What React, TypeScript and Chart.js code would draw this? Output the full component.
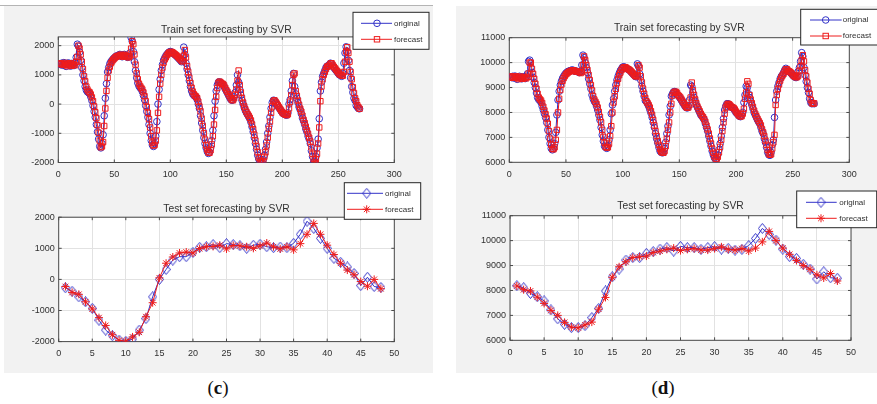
import React, { useEffect, useRef } from "react";
import { Chart, registerables } from "chart.js";

Chart.register(...registerables);

// ---------------- data ----------------
const trainXTicks = [0, 50, 100, 150, 200, 250, 300];
const testXTicks = [0, 5, 10, 15, 20, 25, 30, 35, 40, 45, 50];
const cYTicks = [-2000, -1000, 0, 1000, 2000];
const dYTicks = [6000, 7000, 8000, 9000, 10000, 11000];
const trainTitle = "Train set forecasting by SVR";
const testTitle = "Test set forecasting by SVR";
const seriesLabels = ["original", "forecast"];
const panelLabels = ["c", "d"];

const cTrainOriginal = [
  1380, 1350, 1400, 1330, 1420, 1360, 1290, 1380, 1410, 1340, 1300, 1390, 1360, 1320, 1420,
  1600, 2050, 1980, 1780, 1500,
  1250, 1000, 800, 600, 480, 420, 390, 360, 250, 120,
  -50, -250, -450, -700, -950, -1200, -1450, -1500, -1350, -1050,
  -400, 200, 700, 1100, 1250, 1380, 1450, 1500, 1550, 1580,
  1620, 1650, 1640, 1680, 1700, 1660, 1620, 1680, 1700, 1650,
  1620, 1600, 1640, 1750, 2280, 2150, 1800, 1450, 1150, 900,
  720, 620, 560, 520, 430, 300, 150, -50, -250, -450,
  -700, -1000, -1250, -1400, -1450, -1350, -1100, -600, 0, 500,
  850, 1150, 1350, 1500, 1580, 1650, 1700, 1750, 1780, 1800,
  1780, 1760, 1720, 1700, 1660, 1620, 1580, 1540, 1500, 1450,
  1500, 1950, 1700, 1400, 1200, 1000, 800, 600, 450, 350,
  300, 270, 240, 150, 0, -150, -400, -650, -900, -1150,
  -1350, -1500, -1620, -1690, -1650, -1500, -1250, -900, -400, 100,
  450, 650, 750, 760, 720, 700, 680, 600, 520, 450,
  380, 300, 230, 160, 130, 150, 250, 400, 650, 1000,
  750, 500, 300, 130, 0, -120, -220, -300, -360, -430,
  -500, -620, -780, -950, -1150, -1350, -1550, -1750, -1880, -1980,
  -2030, -2020, -1900, -1750, -1550, -1300, -1000, -750, -450, -150,
  50, 130, 120, 60, 0, -60, -120, -180, -240, -300,
  -330, -350, -370, -380, -300, 0, 150, 450, 800, 1050,
  600, 350, 200, 50, -100, -200, -330, -480, -580, -700,
  -850, -950, -1100, -1200, -1350, -1600, -1800, -1980, -1950, -1800,
  -1500, -1200, -500, 450, 750, 950, 1050, 1150, 1250, 1300,
  1300, 1350, 1400, 1380, 1300, 1250, 1200, 1150, 1100, 1050,
  1000, 1000, 950, 1050, 1400, 1750, 1960, 1800, 1500, 1150,
  900, 600, 400, 200, 120, -50, -100, -150, -160,
];

const cTrainForecast = [
  1400, 1370, 1360, 1390, 1340, 1410, 1350, 1300, 1370, 1400, 1330, 1310, 1380, 1350, 1330,
  1450, 1620, 2000, 1900, 1700,
  1450, 1200, 950, 780, 600, 500, 430, 400, 330, 230,
  100, -80, -280, -480, -720, -980, -1250, -1480, -1450, -1300,
  -750, -150, 450, 900, 1150, 1280, 1400, 1460, 1520, 1560,
  1600, 1630, 1650, 1640, 1680, 1690, 1650, 1620, 1670, 1690,
  1640, 1610, 1600, 1650, 1900, 2150, 2050, 1700, 1350, 1050,
  850, 700, 620, 560, 500, 400, 270, 100, -100, -300,
  -520, -800, -1100, -1320, -1420, -1400, -1250, -900, -300, 250,
  700, 1000, 1250, 1420, 1530, 1600, 1670, 1720, 1760, 1780,
  1790, 1770, 1740, 1710, 1680, 1650, 1610, 1570, 1530, 1490,
  1460, 1650, 1850, 1600, 1300, 1100, 900, 720, 560, 430,
  340, 290, 260, 200, 80, -80, -250, -500, -750, -1000,
  -1220, -1420, -1560, -1650, -1670, -1580, -1380, -1100, -700, -200,
  250, 550, 720, 770, 740, 700, 690, 640, 560, 480,
  420, 340, 270, 200, 140, 130, 200, 320, 500, 800,
  1150, 650, 400, 200, 50, -80, -180, -270, -340, -400,
  -470, -560, -700, -860, -1050, -1250, -1450, -1650, -1830, -1930,
  -1990, -2000, -1950, -1800, -1650, -1420, -1150, -850, -600, -300,
  -80, 90, 130, 80, 20, -40, -100, -160, -220, -280,
  -320, -340, -360, -380, -350, -150, 80, 300, 650, 1000,
  1050, 450, 280, 120, -30, -160, -260, -400, -540, -650,
  -780, -900, -1020, -1150, -1280, -1480, -1700, -1880, -2000, -1900,
  -1700, -1350, -800, 100, 600, 850, 1000, 1100, 1200, 1280,
  1300, 1320, 1380, 1400, 1340, 1280, 1230, 1180, 1130, 1080,
  1030, 1000, 980, 970, 1100, 1450, 1800, 1950, 1750, 1450,
  1100, 850, 580, 380, 200, 100, -40, -110, -160,
];

const dTrainOriginal = [
  9420, 9400, 9450, 9380, 9460, 9400, 9330, 9420, 9450, 9380, 9350, 9430, 9400, 9360, 9450,
  9550, 10050, 10100, 9800, 9600,
  9400, 9200, 9000, 8780, 8600, 8520, 8480, 8400, 8250, 8100,
  7950, 7800, 7600, 7300, 7000, 6750, 6560, 6500, 6550, 6750,
  7200, 7900, 8500, 8850, 9100, 9250, 9370, 9450, 9520, 9580,
  9620, 9650, 9660, 9680, 9700, 9700, 9680, 9650, 9660, 9640,
  9620, 9600, 9650, 9900, 10300, 10200, 10000, 9800, 9600, 9350,
  9150, 8950, 8700, 8550, 8450, 8380, 8250, 8100, 7900, 7700,
  7400, 7100, 6850, 6650, 6600, 6560, 6650, 6900, 7300, 7950,
  8300, 8550, 8850, 9100, 9300, 9450, 9570, 9680, 9750, 9820,
  9830, 9810, 9780, 9750, 9730, 9700, 9650, 9600, 9550, 9500,
  9450, 9430, 9950, 9850, 9550, 9300, 9050, 8850, 8650, 8480,
  8430, 8350, 8250, 8120, 7980, 7800, 7600, 7400, 7150, 6950,
  6780, 6600, 6450, 6400, 6380, 6400, 6550, 6800, 7150, 7450,
  7900, 8250, 8650, 8750, 8830, 8840, 8800, 8720, 8680, 8620,
  8550, 8480, 8400, 8330, 8250, 8200, 8180, 8250, 8500, 9100,
  9050, 8800, 8600, 8450, 8300, 8200, 8100, 8000, 7900, 7850,
  7780, 7700, 7550, 7400, 7250, 7050, 6850, 6650, 6450, 6300,
  6180, 6120, 6150, 6300, 6500, 6750, 7050, 7400, 7750, 8100,
  8250, 8350, 8350, 8300, 8250, 8200, 8200, 8150, 8080, 8000,
  7950, 7900, 7850, 7830, 7900, 8000, 8400, 8700, 9050, 9000,
  8750, 8600, 8450, 8300, 8150, 8000, 7900, 7800, 7700, 7620,
  7550, 7400, 7250, 7150, 6950, 6800, 6600, 6400, 6300, 6280,
  6400, 6700, 6900, 7800, 8500, 8850, 9050, 9200, 9350, 9450,
  9500, 9600, 9700, 9770, 9700, 9650, 9640, 9600, 9550, 9500,
  9450, 9420, 9400, 9450, 9650, 9800, 10050, 10400, 10250, 9800,
  9500, 9250, 9000, 8800, 8550, 8400, 8350, 8370, 8350,
];

const dTrainForecast = [
  9450, 9410, 9390, 9440, 9390, 9450, 9400, 9340, 9410, 9440, 9370, 9350, 9420, 9390, 9370,
  9430, 9560, 10000, 10000, 9750,
  9550, 9350, 9150, 8950, 8750, 8600, 8530, 8480, 8380, 8230,
  8080, 7930, 7760, 7550, 7250, 6950, 6700, 6540, 6520, 6600,
  6900, 7300, 8000, 8550, 8900, 9120, 9270, 9380, 9460, 9530,
  9570, 9610, 9640, 9660, 9680, 9690, 9690, 9660, 9640, 9650,
  9640, 9610, 9580, 9620, 9900, 10250, 10100, 9900, 9700, 9500,
  9300, 9100, 8880, 8650, 8520, 8430, 8340, 8200, 8020, 7820,
  7600, 7300, 7020, 6780, 6620, 6590, 6600, 6750, 7050, 7450,
  8000, 8400, 8650, 8950, 9180, 9350, 9500, 9600, 9700, 9770,
  9810, 9820, 9800, 9760, 9740, 9710, 9670, 9620, 9570, 9520,
  9470, 9440, 9500, 9900, 9800, 9450, 9200, 8950, 8750, 8580,
  8450, 8380, 8300, 8200, 8050, 7900, 7700, 7480, 7250, 7050,
  6850, 6700, 6530, 6430, 6400, 6380, 6450, 6650, 6950, 7300,
  7600, 8000, 8350, 8680, 8790, 8830, 8830, 8780, 8700, 8650,
  8600, 8520, 8440, 8370, 8290, 8220, 8190, 8200, 8300, 8600,
  9200, 8900, 8700, 8520, 8370, 8240, 8140, 8050, 7950, 7870,
  7810, 7730, 7620, 7470, 7320, 7150, 6950, 6750, 6550, 6380,
  6240, 6150, 6130, 6220, 6400, 6620, 6900, 7250, 7600, 7950,
  8200, 8300, 8350, 8330, 8280, 8230, 8200, 8180, 8120, 8040,
  7980, 7920, 7870, 7840, 7850, 7950, 8150, 8550, 8800, 9250,
  9150, 8700, 8520, 8370, 8220, 8070, 7950, 7850, 7750, 7660,
  7580, 7480, 7320, 7200, 7050, 6870, 6700, 6500, 6350, 6300,
  6320, 6550, 6800, 7100, 8300, 8700, 8950, 9130, 9280, 9400,
  9480, 9550, 9650, 9730, 9740, 9680, 9650, 9620, 9580, 9520,
  9470, 9440, 9410, 9420, 9480, 9680, 9850, 10100, 10300, 10050,
  9700, 9450, 9200, 8950, 8750, 8500, 8380, 8350, 8370,
];

const cTestOriginal = [
  -270, -380, -560, -720, -930, -1310, -1630, -1810, -1950, -1990,
  -1920, -1630, -1260, -560, 0, 320, 620, 730, 730, 870,
  1030, 1050, 1120, 1020, 1150, 1120, 1080, 1000, 1100, 1130,
  1050, 1020, 1040, 1020, 1160, 1450, 1870, 1640, 1320, 1000,
  680, 550, 400, 190, -200, 70, -230, -260,
];
const cTestForecast = [
  -230, -420, -480, -720, -950, -1230, -1480, -1780, -1960, -1990,
  -1850, -1700, -1200, -750, 50, 520, 720, 850, 880, 850,
  990, 1050, 1060, 1100, 980, 1090, 1080, 1050, 1000, 1080,
  1170, 1050, 980, 1050, 950, 1150, 1450, 1800, 1450, 1100,
  800, 520, 300, 150, -70, -220, 0, -300,
];
const dTestOriginal = [
  8190, 8110, 7880, 7750, 7580, 7220, 6860, 6640, 6510, 6510,
  6590, 6910, 7280, 7980, 8550, 8860, 9220, 9320, 9320, 9490,
  9560, 9660, 9720, 9580, 9770, 9720, 9720, 9650, 9720, 9760,
  9660, 9690, 9620, 9650, 9800, 10090, 10490, 10250, 10020, 9660,
  9360, 9290, 9050, 8860, 8460, 8750, 8510, 8490,
];
const dTestForecast = [
  8180, 8030, 7980, 7730, 7480, 7200, 7000, 6720, 6530, 6500,
  6620, 6730, 7250, 7720, 8530, 8950, 9150, 9320, 9350, 9380,
  9520, 9580, 9650, 9700, 9600, 9650, 9680, 9620, 9620, 9680,
  9750, 9650, 9620, 9680, 9580, 9700, 9950, 10370, 10000, 9700,
  9450, 9200, 9000, 8850, 8630, 8500, 8680, 8380,
];

// ---------------- style ----------------
const BLUE = "rgb(50,50,200)";
const RED = "rgb(238,28,28)";
const AXIS = "#4a4a4a";
const GRID = "#e2e2e2";
const TEXT = "#303030";
const SANS = "'Liberation Sans', Arial, Helvetica, sans-serif";
const PANEL = "#f2f2f2";

type Box = { L: number; T: number; R: number; B: number };
type Legend = {
  x1: number; y1: number; x2: number; y2: number;
  lx1: number; lx2: number; mx: number; tx: number; rows: number[];
};
type Spec = {
  left: number; top: number; width: number; height: number;
  plot: Box; xMin: number; xMax: number; yMin: number; yMax: number;
  xTicks: number[]; yTicks: number[]; title: string; titleY: number;
  legend: Legend; original: number[]; forecast: number[]; kind: "train" | "test";
};

const specs: Spec[] = [
  {
    left: 0, top: 0, width: 440, height: 182,
    plot: { L: 58.3, T: 36.9, R: 394.3, B: 162.5 },
    xMin: 0, xMax: 300, yMin: -2000, yMax: 2300,
    xTicks: trainXTicks, yTicks: cYTicks, title: trainTitle, titleY: 29.7,
    legend: { x1: 353, y1: 12.3, x2: 429, y2: 49.3, lx1: 361, lx2: 392, mx: 377, tx: 394, rows: [23.3, 39.3] },
    original: cTrainOriginal, forecast: cTrainForecast, kind: "train",
  },
  {
    left: 0, top: 178, width: 440, height: 182,
    plot: { L: 58.7, T: 217.2, R: 394.3, B: 341.6 },
    xMin: 0, xMax: 50, yMin: -2000, yMax: 2000,
    xTicks: testXTicks, yTicks: cYTicks, title: testTitle, titleY: 208.7,
    legend: { x1: 344.3, y1: 182.7, x2: 420.7, y2: 219.3, lx1: 347, lx2: 383, mx: 366.7, tx: 385, rows: [193.3, 209.3] },
    original: cTestOriginal, forecast: cTestForecast, kind: "test",
  },
  {
    left: 450, top: 0, width: 427, height: 182,
    plot: { L: 509.3, T: 37.7, R: 849.3, B: 162.3 },
    xMin: 0, xMax: 300, yMin: 6000, yMax: 11000,
    xTicks: trainXTicks, yTicks: dYTicks, title: trainTitle, titleY: 28.3,
    legend: { x1: 800.7, y1: 9.3, x2: 880, y2: 45, lx1: 810, lx2: 841.7, mx: 825.7, tx: 842.7, rows: [20, 36] },
    original: dTrainOriginal, forecast: dTrainForecast, kind: "train",
  },
  {
    left: 450, top: 178, width: 427, height: 182,
    plot: { L: 510, T: 215.7, R: 851, B: 340.3 },
    xMin: 0, xMax: 50, yMin: 6000, yMax: 11000,
    xTicks: testXTicks, yTicks: dYTicks, title: testTitle, titleY: 206,
    legend: { x1: 796.7, y1: 191, x2: 876.7, y2: 227.7, lx1: 806, lx2: 836.7, mx: 821, tx: 839.3, rows: [202.3, 218.3] },
    original: dTestOriginal, forecast: dTestForecast, kind: "test",
  },
];

function makeDiamond(): HTMLCanvasElement {
  const c = document.createElement("canvas");
  c.width = 9;
  c.height = 11;
  const g = c.getContext("2d")!;
  g.strokeStyle = BLUE;
  g.lineWidth = 1;
  g.beginPath();
  g.moveTo(4.5, 0.5);
  g.lineTo(8.5, 5.5);
  g.lineTo(4.5, 10.5);
  g.lineTo(0.5, 5.5);
  g.closePath();
  g.stroke();
  return c;
}

function drawMarker(ctx: CanvasRenderingContext2D, kind: string, x: number, y: number, diamond: HTMLCanvasElement) {
  ctx.save();
  ctx.lineWidth = 1;
  if (kind === "circle") {
    ctx.strokeStyle = BLUE;
    ctx.beginPath();
    ctx.arc(x, y, 3.3, 0, Math.PI * 2);
    ctx.stroke();
  } else if (kind === "rect") {
    ctx.strokeStyle = RED;
    ctx.strokeRect(x - 2.7, y - 2.7, 5.4, 5.4);
  } else if (kind === "diamond") {
    ctx.drawImage(diamond, x - diamond.width / 2, y - diamond.height / 2);
  } else {
    ctx.strokeStyle = RED;
    const r = 4;
    ctx.beginPath();
    for (let k = 0; k < 4; k++) {
      const a = (k * Math.PI) / 4;
      ctx.moveTo(x - Math.cos(a) * r, y - Math.sin(a) * r);
      ctx.lineTo(x + Math.cos(a) * r, y + Math.sin(a) * r);
    }
    ctx.stroke();
  }
  ctx.restore();
}

function makeDeco(spec: Spec, diamond: HTMLCanvasElement) {
  const ox = spec.left;
  const oy = spec.top;
  return {
    id: "matlabDeco",
    beforeDraw(chart: any) {
      const a = chart.chartArea;
      const ctx = chart.ctx;
      ctx.save();
      ctx.fillStyle = "#ffffff";
      ctx.fillRect(a.left, a.top, a.right - a.left, a.bottom - a.top);
      ctx.restore();
    },
    beforeDatasetsDraw(chart: any) {
      const a = chart.chartArea;
      const ctx = chart.ctx;
      const xs = chart.scales.x;
      const ys = chart.scales.y;
      ctx.save();
      ctx.strokeStyle = AXIS;
      ctx.lineWidth = 1;
      ctx.strokeRect(a.left, a.top, a.right - a.left, a.bottom - a.top);
      ctx.beginPath();
      const tl = 3;
      spec.xTicks.forEach((v) => {
        const px = xs.getPixelForValue(v);
        ctx.moveTo(px, a.bottom);
        ctx.lineTo(px, a.bottom - tl);
        ctx.moveTo(px, a.top);
        ctx.lineTo(px, a.top + tl);
      });
      spec.yTicks.forEach((v) => {
        const py = ys.getPixelForValue(v);
        ctx.moveTo(a.left, py);
        ctx.lineTo(a.left + tl, py);
        ctx.moveTo(a.right, py);
        ctx.lineTo(a.right - tl, py);
      });
      ctx.stroke();
      ctx.restore();
    },
    afterDraw(chart: any) {
      const a = chart.chartArea;
      const ctx = chart.ctx;
      ctx.save();
      // title
      ctx.fillStyle = TEXT;
      ctx.font = `10.3px ${SANS}`;
      ctx.textAlign = "center";
      ctx.textBaseline = "middle";
      ctx.fillText(spec.title, (a.left + a.right) / 2, spec.titleY - oy);
      // legend
      const lg = spec.legend;
      ctx.fillStyle = "#ffffff";
      ctx.fillRect(lg.x1 - ox, lg.y1 - oy, lg.x2 - lg.x1, lg.y2 - lg.y1);
      ctx.strokeStyle = "#262626";
      ctx.lineWidth = 1;
      ctx.strokeRect(lg.x1 - ox, lg.y1 - oy, lg.x2 - lg.x1, lg.y2 - lg.y1);
      const kinds = spec.kind === "train" ? ["circle", "rect"] : ["diamond", "star"];
      const colors = [BLUE, RED];
      seriesLabels.forEach((lab, i) => {
        const y = lg.rows[i] - oy;
        ctx.strokeStyle = colors[i];
        ctx.lineWidth = 1;
        ctx.beginPath();
        ctx.moveTo(lg.lx1 - ox, y);
        ctx.lineTo(lg.lx2 - ox, y);
        ctx.stroke();
        drawMarker(ctx, kinds[i], lg.mx - ox, y, diamond);
        ctx.fillStyle = TEXT;
        ctx.font = `8px ${SANS}`;
        ctx.textAlign = "left";
        ctx.textBaseline = "middle";
        ctx.fillText(lab, lg.tx - ox, y);
      });
      ctx.restore();
    },
  };
}

function ChartPanel({ spec }: { spec: Spec }) {
  const ref = useRef<HTMLCanvasElement | null>(null);
  useEffect(() => {
    if (!ref.current) return;
    const diamond = makeDiamond();
    const p = spec.plot;
    const isTrain = spec.kind === "train";
    const chart = new Chart(ref.current, {
      type: "line",
      data: {
        datasets: [
          {
            label: seriesLabels[0],
            data: spec.original.map((v, i) => ({ x: i + 1, y: v })),
            borderColor: BLUE,
            borderWidth: 1,
            pointStyle: isTrain ? "circle" : (diamond as any),
            pointRadius: isTrain ? 3.3 : 4.5,
            pointBorderColor: BLUE,
            pointBackgroundColor: "rgba(0,0,0,0)",
            pointBorderWidth: 1,
            tension: 0,
            order: 2,
          },
          {
            label: seriesLabels[1],
            data: spec.forecast.map((v, i) => ({ x: i + 1, y: v })),
            borderColor: RED,
            borderWidth: 1,
            pointStyle: isTrain ? "rect" : "star",
            pointRadius: isTrain ? 3.8 : 4,
            pointBorderColor: RED,
            pointBackgroundColor: "rgba(0,0,0,0)",
            pointBorderWidth: 1,
            tension: 0,
            order: 1,
          },
        ],
      },
      options: {
        responsive: false,
        animation: false,
        devicePixelRatio: 1,
        events: [],
        layout: {
          padding: {
            left: 0,
            top: p.T - spec.top,
            right: spec.left + spec.width - p.R,
            bottom: 0,
          },
        },
        plugins: {
          legend: { display: false },
          tooltip: { enabled: false },
          title: { display: false },
        },
        scales: {
          x: {
            type: "linear",
            min: spec.xMin,
            max: spec.xMax,
            afterBuildTicks: (s: any) => {
              s.ticks = spec.xTicks.map((v) => ({ value: v }));
            },
            afterFit: (s: any) => {
              s.height = spec.top + spec.height - p.B;
            },
            grid: { color: GRID, drawTicks: false, lineWidth: 1 },
            border: { display: false },
            ticks: {
              padding: 7,
              color: TEXT,
              font: { family: SANS, size: 9 },
              maxRotation: 0,
              autoSkip: false,
              callback: (v: any) => String(v),
            },
          },
          y: {
            type: "linear",
            min: spec.yMin,
            max: spec.yMax,
            afterBuildTicks: (s: any) => {
              s.ticks = spec.yTicks.map((v) => ({ value: v }));
            },
            afterFit: (s: any) => {
              s.width = p.L - spec.left;
            },
            grid: { color: GRID, drawTicks: false, lineWidth: 1 },
            border: { display: false },
            ticks: {
              padding: 4,
              color: TEXT,
              font: { family: SANS, size: 9 },
              autoSkip: false,
              callback: (v: any) => String(v),
            },
          },
        },
      } as any,
      plugins: [makeDeco(spec, diamond) as any],
    });
    return () => chart.destroy();
  }, [spec]);
  return (
    <canvas
      ref={ref}
      width={spec.width}
      height={spec.height}
      style={{ position: "absolute", left: spec.left, top: spec.top, width: spec.width, height: spec.height }}
    />
  );
}

export default function App() {
  return (
    <div
      style={{
        position: "fixed",
        left: 0,
        top: 0,
        width: 877,
        height: 404,
        background: "#ffffff",
        overflow: "hidden",
      }}
    >
      <div style={{ position: "absolute", left: 0, top: 5, width: 433, height: 1, background: "#b4b4b4" }} />
      <div style={{ position: "absolute", left: 4, top: 6, width: 429, height: 367, background: PANEL }} />
      <div style={{ position: "absolute", left: 456, top: 6, width: 421, height: 367, background: PANEL }} />
      {specs.map((s, i) => (
        <ChartPanel key={i} spec={s} />
      ))}
      {panelLabels.map((lab, i) => (
        <div
          key={lab}
          style={{
            position: "absolute",
            left: i === 0 ? 168 : 613,
            width: 100,
            top: 376,
            textAlign: "center",
            fontFamily: "'Liberation Serif', 'Times New Roman', serif",
            fontSize: 19,
            lineHeight: "24px",
            color: "#111",
          }}
        >
          (<b>{lab}</b>)
        </div>
      ))}
    </div>
  );
}
